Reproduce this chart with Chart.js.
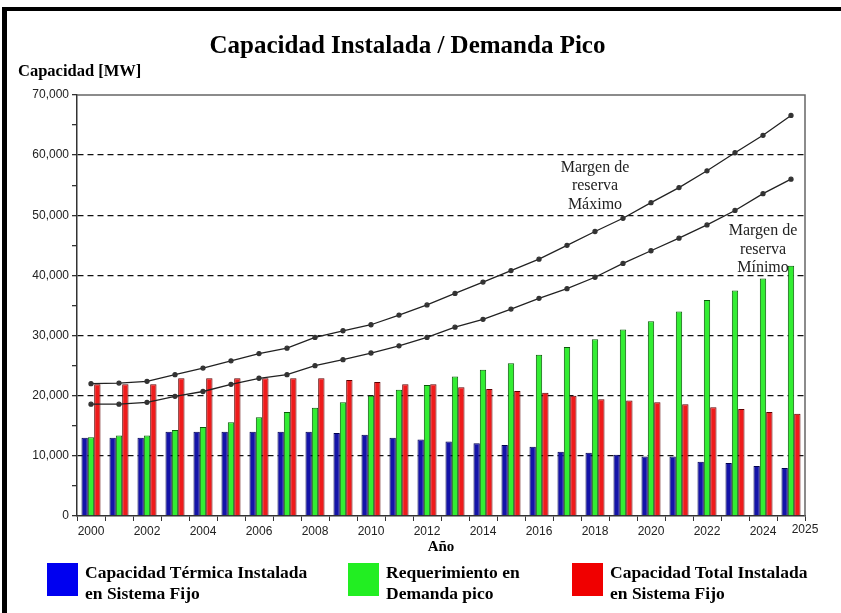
<!DOCTYPE html>
<html>
<head>
<meta charset="utf-8">
<script src="https://cdn.jsdelivr.net/npm/chart.js@4.4.1/dist/chart.umd.min.js"></script>
<style>
  body { margin: 0; background: #fff; }
  #wrap { position: relative; width: 841px; height: 613px; overflow: hidden; }
  #frame { position: absolute; left: 2px; top: 7px; width: 839px; height: 606px;
           border-left: 5px solid #000; border-top: 4px solid #000; box-sizing: border-box; }
  canvas { position: absolute; left: 0; top: 0; }
  .ylab { position: absolute; left: 18px; top: 61px; font: bold 16.5px "Liberation Serif", serif; color: #000; }
  .leg { position: absolute; top: 563px; display: flex; align-items: flex-start; }
  .leg .box { width: 31px; height: 33px; margin-right: 7px; }
  .leg .txt { font: bold 17.5px/21px "Liberation Serif", serif; color: #000; margin-top: -1px; }
</style>
</head>
<body>
<div id="wrap">
  <canvas id="chart" width="841" height="613"></canvas>
  <div id="frame"></div>
  <div class="ylab">Capacidad [MW]</div>
  <div class="leg" style="left:47px"><div class="box" style="background:#0000f0"></div><div class="txt">Capacidad Térmica Instalada<br>en Sistema Fijo</div></div>
  <div class="leg" style="left:348px"><div class="box" style="background:#22ee22"></div><div class="txt">Requerimiento en<br>Demanda pico</div></div>
  <div class="leg" style="left:572px"><div class="box" style="background:#f00000"></div><div class="txt">Capacidad Total Instalada<br>en Sistema Fijo</div></div>
</div>
<script>
const years = ["2000", "2001", "2002", "2003", "2004", "2005", "2006", "2007", "2008", "2009",
  "2010", "2011", "2012", "2013", "2014", "2015", "2016", "2017", "2018", "2019",
  "2020", "2021", "2022", "2023", "2024", "2025"];

const termica = [13000, 13000, 13000, 14000, 14000, 14000, 14000, 14000, 14000, 13800,
  13500, 13000, 12700, 12400, 12100, 11800, 11500, 10700, 10500, 10200,
  9900, 9900, 9000, 8800, 8300, 8000];

const demanda = [13100, 13400, 13400, 14300, 14800, 15600, 16400, 17300, 18000, 18900,
  20000, 21000, 21800, 23200, 24300, 25400, 26800, 28100, 29400, 31000,
  32400, 34000, 35900, 37500, 39500, 41600];

const total = [21900, 21900, 21900, 22900, 22900, 22900, 22900, 22900, 22900, 22600,
  22300, 21900, 21900, 21400, 21100, 20800, 20500, 20000, 19400, 19200,
  18900, 18600, 18100, 17800, 17300, 17000];

const margenMax = [22000, 22100, 22400, 23500, 24600, 25800, 27000, 27900, 29700, 30800,
  31800, 33400, 35100, 37000, 38900, 40800, 42700, 45000, 47300, 49500,
  52100, 54600, 57400, 60400, 63300, 66600];

const margenMin = [18600, 18600, 18900, 19900, 20700, 21900, 22900, 23500, 25000, 26000,
  27100, 28300, 29700, 31400, 32700, 34400, 36200, 37800, 39700, 42000,
  44100, 46200, 48400, 50800, 53600, 56000];

const tickFont = { family: "Liberation Sans", size: 12 };

// curve labels, last year label at the axis end, top/right frame of the plot
const extras = {
  id: "extras",
  afterDraw(chart) {
    const { ctx, chartArea, scales } = chart;
    ctx.save();
    ctx.strokeStyle = "#666";
    ctx.lineWidth = 1.5;
    ctx.beginPath();
    ctx.moveTo(chartArea.left, chartArea.top);
    ctx.lineTo(chartArea.right, chartArea.top);
    ctx.lineTo(chartArea.right, chartArea.bottom);
    ctx.stroke();

    ctx.fillStyle = "#222";
    ctx.font = "12px 'Liberation Sans'";
    ctx.textAlign = "center";
    ctx.textBaseline = "top";
    ctx.fillText("2025", chartArea.right, chartArea.bottom + 8);

    ctx.font = "16px 'Liberation Serif'";
    ctx.textBaseline = "middle";
    const notes = [
      { idx: 18, value: 57900, lines: ["Margen de", "reserva", "Máximo"] },
      { idx: 24, value: 47400, lines: ["Margen de", "reserva", "Mínimo"] },
    ];
    notes.forEach((n) => {
      const x = scales.x.getPixelForValue(n.idx);
      const y = scales.y.getPixelForValue(n.value);
      n.lines.forEach((t, i) => ctx.fillText(t, x, y + i * 18.5));
    });
    ctx.restore();
  },
};

const ctx = document.getElementById("chart").getContext("2d");

new Chart(ctx, {
  type: "bar",
  data: {
    labels: years,
    datasets: [
      { type: "line", data: margenMax, borderColor: "#222", borderWidth: 1.3,
        pointRadius: 2, pointBackgroundColor: "#333", pointBorderColor: "#333", order: 0 },
      { type: "line", data: margenMin, borderColor: "#222", borderWidth: 1.3,
        pointRadius: 2, pointBackgroundColor: "#333", pointBorderColor: "#333", order: 0 },
      { data: termica, backgroundColor: "#1414a8", borderColor: "#000050", borderWidth: 1, order: 1 },
      { data: demanda, backgroundColor: "#33ee33", borderColor: "#0a5a0a", borderWidth: 1, order: 1 },
      { data: total, backgroundColor: "#ee1b1b", borderColor: "#600000", borderWidth: 1, order: 1 },
    ],
  },
  options: {
    responsive: false,
    animation: false,
    layout: { padding: { left: 10, right: 36, top: 0, bottom: 57 } },
    datasets: { bar: { categoryPercentage: 0.68, barPercentage: 1.0 } },
    plugins: {
      legend: { display: false },
      tooltip: { enabled: false },
      title: {
        display: true,
        text: "Capacidad Instalada / Demanda Pico",
        color: "#000",
        font: { family: "Liberation Serif", size: 25, weight: "bold" },
        padding: { top: 32, bottom: 33 },
      },
    },
    scales: {
      x: {
        afterFit: (scale) => { scale.height = 40; },
        grid: { drawOnChartArea: false, tickLength: 5, tickColor: "#333", lineWidth: 1 },
        border: { color: "#333", width: 1.5 },
        ticks: {
          font: tickFont, color: "#222", padding: 3, maxRotation: 0, autoSkip: false,
          callback: (v, i) => (i % 2 === 0 && i < 25 ? years[i] : ""),
        },
        title: {
          display: true, text: "Año", color: "#000", padding: { top: 0, bottom: 0 },
          font: { family: "Liberation Serif", size: 15, weight: "bold" },
        },
      },
      y: {
        min: 0,
        max: 70000,
        afterFit: (scale) => { scale.width = 67; },
        ticks: {
          stepSize: 5000, font: tickFont, color: "#222", padding: 3,
          callback: (v) => (v % 10000 === 0 ? v.toLocaleString("en-US") : ""),
        },
        grid: {
          tickLength: 5, tickColor: "#333", lineWidth: 1.3,
          color: (c) => (c.tick && c.tick.value % 10000 === 0 && c.tick.value > 0 && c.tick.value < 70000 ? "#111" : "transparent"),
        },
        border: { color: "#333", width: 1.5, dash: [6, 4] },
      },
    },
  },
  plugins: [extras],
});
</script>
</body>
</html>
